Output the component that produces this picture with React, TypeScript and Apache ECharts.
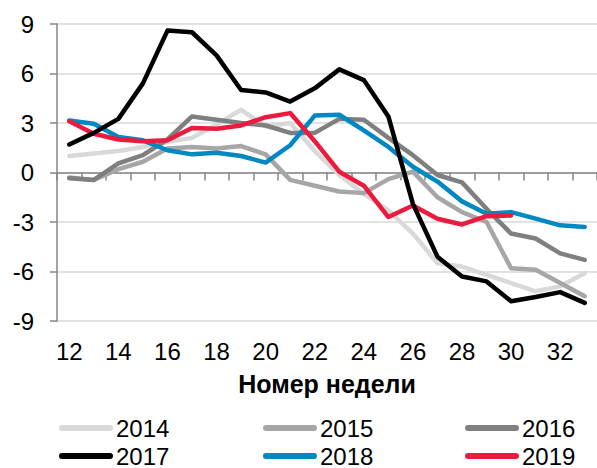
import React, { useEffect, useRef } from "react";
import * as echarts from "echarts";

const weeks = ["12","13","14","15","16","17","18","19","20","21","22","23","24","25","26","27","28","29","30","31","32","33"];
const yTicks = [-9, -6, -3, 0, 3, 6, 9];
const xAxisTitle = "Номер недели";

const s2014 = [1.0, 1.15, 1.3, 1.55, 1.85, 2.1, 2.9, 3.8, 2.8, 3.0, 1.3, -0.15, -1.3, -2.3, -3.7, -5.5, -5.7, -6.2, -6.7, -7.2, -6.9, -6.1];
const s2015 = [-0.3, -0.45, 0.2, 0.65, 1.45, 1.55, 1.45, 1.6, 1.1, -0.45, -0.8, -1.15, -1.25, -0.4, 0.05, -1.5, -2.4, -3.0, -5.8, -5.9, -6.7, -7.5];
const s2016 = [-0.35, -0.45, 0.55, 1.05, 2.0, 3.4, 3.2, 3.0, 2.85, 2.4, 2.4, 3.25, 3.2, 2.1, 1.05, -0.15, -0.6, -2.2, -3.7, -4.0, -4.9, -5.3];
const s2017 = [1.7, 2.4, 3.25, 5.4, 8.6, 8.5, 7.1, 5.0, 4.85, 4.3, 5.1, 6.25, 5.6, 3.4, -1.9, -5.1, -6.3, -6.6, -7.8, -7.55, -7.25, -7.9];
const s2018 = [3.15, 2.95, 2.15, 1.95, 1.35, 1.1, 1.2, 1.0, 0.6, 1.65, 3.45, 3.5, 2.55, 1.55, 0.35, -0.55, -1.75, -2.5, -2.4, -2.8, -3.2, -3.3];
const s2019 = [3.1, 2.35, 2.0, 1.9, 1.95, 2.7, 2.65, 2.85, 3.35, 3.6, 1.9, 0.05, -0.8, -2.7, -2.0, -2.8, -3.15, -2.65, -2.6, null, null, null];

const seriesDefs = [
  { name: "2014", data: s2014, color: "#d9d9d9" },
  { name: "2015", data: s2015, color: "#a6a6a6" },
  { name: "2016", data: s2016, color: "#7f7f7f" },
  { name: "2018", data: s2018, color: "#0088c2" },
  { name: "2019", data: s2019, color: "#ec1a3d" },
  { name: "2017", data: s2017, color: "#000000" },
];

const legendLayout = [
  { name: "2014", left: 59, top: 416 },
  { name: "2015", left: 263, top: 416 },
  { name: "2016", left: 465, top: 416 },
  { name: "2017", left: 59, top: 444 },
  { name: "2018", left: 263, top: 444 },
  { name: "2019", left: 465, top: 444 },
];

const FONT = "'Liberation Sans', Arial, sans-serif";
const AXIS_COLOR = "#868686";

export default function App() {
  const ref = useRef<HTMLDivElement>(null);
  useEffect(() => {
    if (!ref.current) return;
    const chart = echarts.init(ref.current, null, { renderer: "svg" });
    const pill = "path://M3,0 H51 A3,3 0 0 1 51,6 H3 A3,3 0 0 1 3,0 Z";
    chart.setOption({
      animation: false,
      textStyle: { fontFamily: FONT },
      grid: { left: 57, right: -8, top: 24, bottom: 147, containLabel: false },
      legend: legendLayout.map((l) => ({
        data: [l.name],
        left: l.left,
        top: l.top,
        orient: "horizontal",
        icon: pill,
        itemWidth: 54,
        itemHeight: 6,
        itemGap: 0,
        padding: 0,
        selectedMode: false,
        textStyle: { fontSize: 24, color: "#000", fontFamily: FONT, padding: [0, 0, 0, -2] },
      })),
      xAxis: [
        {
          type: "category",
          data: weeks,
          boundaryGap: true,
          axisLine: { show: true, onZero: true, lineStyle: { color: AXIS_COLOR, width: 1.5 } },
          axisTick: { show: true, interval: 0, length: 8, lineStyle: { color: AXIS_COLOR, width: 1.5 } },
          axisLabel: { show: false },
          splitLine: { show: false },
        },
        {
          type: "category",
          data: weeks,
          position: "bottom",
          boundaryGap: true,
          axisLine: { show: false, onZero: false },
          axisTick: { show: false },
          axisLabel: { interval: 1, fontSize: 24, color: "#000", margin: 18, fontFamily: FONT },
          splitLine: { show: false },
          name: xAxisTitle,
          nameLocation: "middle",
          nameGap: 50,
          nameTextStyle: { fontWeight: "bold", fontSize: 25, color: "#000", fontFamily: FONT },
        },
      ],
      yAxis: {
        type: "value",
        min: yTicks[0],
        max: yTicks[yTicks.length - 1],
        interval: 3,
        axisLine: { show: true, lineStyle: { color: AXIS_COLOR, width: 1.5 } },
        axisTick: { show: true, length: 7, lineStyle: { color: AXIS_COLOR, width: 1.5 } },
        axisLabel: { fontSize: 24, color: "#000", margin: 23, fontFamily: FONT },
        splitLine: { show: true, lineStyle: { color: "#d9d9d9", width: 1.5 } },
      },
      series: seriesDefs.map((s) => ({
        name: s.name,
        type: "line",
        xAxisIndex: 0,
        data: s.data,
        symbol: "none",
        connectNulls: false,
        color: s.color,
        lineStyle: { color: s.color, width: 4.5, cap: "round", join: "round" },
        itemStyle: { color: s.color },
      })),
    });
    return () => chart.dispose();
  }, []);
  return (
    <div
      ref={ref}
      style={{ position: "absolute", left: 0, top: 0, width: 597, height: 468 }}
    />
  );
}
